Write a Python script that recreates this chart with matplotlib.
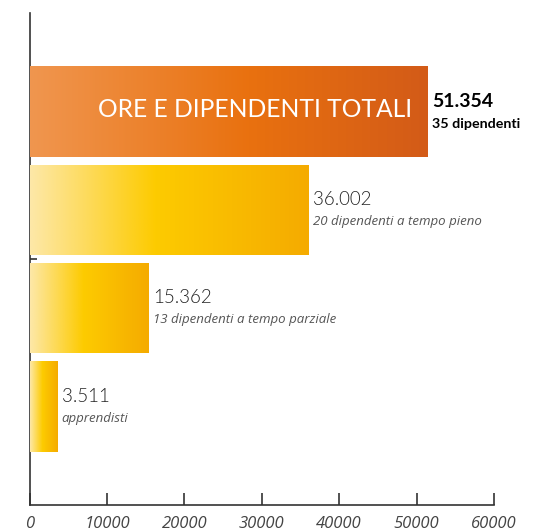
import numpy as np
import matplotlib.pyplot as plt
from matplotlib.colors import LinearSegmentedColormap

# data
categories = ["ORE E DIPENDENTI TOTALI", "tempo pieno", "tempo parziale", "apprendisti"]
ore = [51354, 36002, 15362, 3511]
ore_labels = ["51.354", "36.002", "15.362", "3.511"]
sub_labels = ["35 dipendenti", "20 dipendenti a tempo pieno",
              "13 dipendenti a tempo parziale", "apprendisti"]
x_ticks = [0, 10000, 20000, 30000, 40000, 50000, 60000]

plt.rcParams['font.family'] = ['Lato', 'DejaVu Sans']

# gradients
orange = LinearSegmentedColormap.from_list(
    "orange", [(0, "#F0964F"), (0.55, "#E9710F"), (1, "#D35B18")])
yellow = LinearSegmentedColormap.from_list(
    "yellow", [(0, "#FDE8A8"), (0.45, "#FDCB00"), (1, "#F5AB00")])

fig = plt.figure(figsize=(5.54, 5.30), dpi=100)
ax = fig.add_axes([0.0533, 0.0472, 0.8384, 0.9283])

pos = np.arange(len(ore))
bars = ax.barh(pos, ore, height=0.92, color="none", edgecolor="none")

grad = np.linspace(0, 1, 256).reshape(1, -1)
for i, b in enumerate(bars):
    x0, y0 = b.get_x(), b.get_y()
    w, h = b.get_width(), b.get_height()
    cmap = orange if i == 0 else yellow
    im = ax.imshow(grad, cmap=cmap, aspect="auto",
                   extent=[x0, x0 + w, y0 + h, y0], zorder=3)
    im.set_clip_path(b)

ax.set_xlim(0, 60000)
ax.set_ylim(4, -1)

# big label inside the total bar
ax.annotate(categories[0], xy=(ore[0], 0), xytext=(-11, 1),
            textcoords="offset points", ha="right", va="center",
            color="white", fontsize=17.7, zorder=5)

# value labels
for i in range(len(ore)):
    if i == 0:
        ax.annotate(ore_labels[i], xy=(ore[i], i), xytext=(3.5, 7),
                    textcoords="offset points", ha="left", va="center",
                    fontsize=14, fontweight="bold", color="black")
        ax.annotate(sub_labels[i], xy=(ore[i], i), xytext=(3.5, -9),
                    textcoords="offset points", ha="left", va="center",
                    fontsize=10.3, fontweight="bold", color="black")
    else:
        ax.annotate(ore_labels[i], xy=(ore[i], i), xytext=(3.5, 7.5),
                    textcoords="offset points", ha="left", va="center",
                    fontsize=13.5, fontweight=300, color="#222222")
        ax.annotate(sub_labels[i], xy=(ore[i], i), xytext=(3.5, -8.5),
                    textcoords="offset points", ha="left", va="center",
                    fontsize=9.5, style="italic", color="#555555",
                    family=["Open Sans", "DejaVu Sans"])

# axes styling
for s in ["top", "right"]:
    ax.spines[s].set_visible(False)
ax.spines["left"].set_color("#333333")
ax.spines["bottom"].set_color("#333333")
ax.spines["left"].set_linewidth(1.2)
ax.spines["bottom"].set_linewidth(1.2)

ax.set_xticks(x_ticks)
ax.set_xticklabels([str(v) for v in x_ticks], style="italic", fontsize=12,
                   color="#444444", family=["Open Sans", "DejaVu Sans"])
ax.tick_params(axis="x", direction="in", length=9, width=1.2, color="#333333", pad=8)
ax.set_yticks([1.5])
ax.set_yticklabels([])
ax.tick_params(axis="y", direction="in", length=5, width=1.2, color="#333333")

fig.savefig("out.png", dpi=100)
